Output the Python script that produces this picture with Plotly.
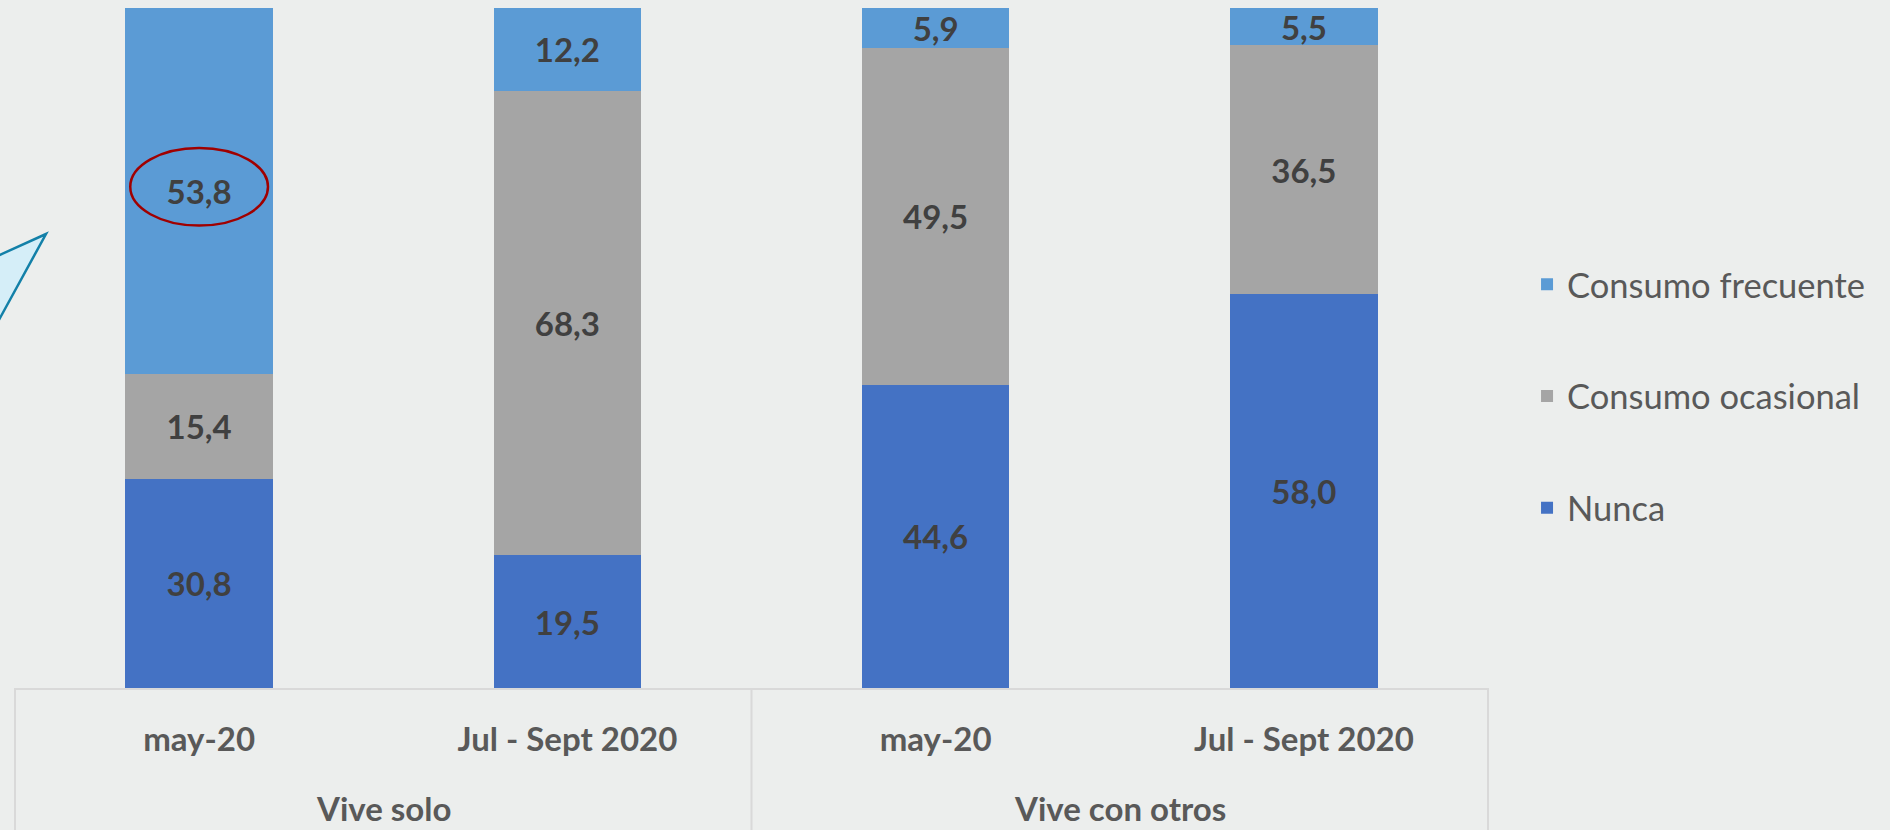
import plotly.graph_objects as go

# ---- data ----
positions = [0, 1, 2, 3]
periods = ["may-20", "Jul - Sept 2020", "may-20", "Jul - Sept 2020"]
groups = ["Vive solo", "Vive con otros"]
group_centers = [0.5, 2.5]

nunca = [30.8, 19.5, 44.6, 58.0]
ocasional = [15.4, 68.3, 49.5, 36.5]
frecuente = [53.8, 12.2, 5.9, 5.5]

series = [
    ("Nunca", nunca, "#4472C4", 3),
    ("Consumo ocasional", ocasional, "#A5A5A5", 2),
    ("Consumo frecuente", frecuente, "#5B9BD5", 1),
]

BG = "#ECEEED"
FONT = "Lato"

fig = go.Figure()
for name, vals, color, rank in series:
    fig.add_trace(go.Bar(
        x=positions, y=vals, name=name, legendgroup=name, legendrank=rank,
        marker=dict(color=color, line=dict(width=0)),
        width=0.4,
        texttemplate="%{y:.1f}", textposition="inside",
        insidetextanchor="middle", textangle=0,
        textfont=dict(family=FONT, size=33, color="#404040", weight="bold"),
        hoverinfo="skip",
    ))

shapes = []
# category box dividers
for px in [0, 0.5, 1]:
    shapes.append(dict(type="line", xref="paper", yref="paper",
                       x0=px, x1=px, y0=0, y1=-0.3,
                       line=dict(color="#D9D9D9", width=2)))
# callout triangle on the left
shapes.append(dict(type="path", xref="paper", yref="paper",
                   path="M 0.02105,0.66765 L -0.02376,0.6238 L -0.02376,0.4904 Z",
                   fillcolor="#D5EEF8", line=dict(color="#1380A8", width=2.5)))
# red ellipse highlight
shapes.append(dict(type="circle", xref="x", yref="y",
                   x0=-0.187, x1=0.187, y0=68.0, y1=79.4,
                   line=dict(color="#A00000", width=2.5)))

annotations = []
for g, c in zip(groups, group_centers):
    annotations.append(dict(x=c, y=-0.1765, xref="x", yref="paper",
                            text=g, showarrow=False, yanchor="middle",
                            font=dict(family=FONT, size=33, color="#595959", weight="bold")))

fig.update_layout(
    width=1890, height=830,
    margin=dict(l=15, r=402, t=8, b=142),
    paper_bgcolor=BG, plot_bgcolor=BG,
    barmode="stack",
    separators=",.",
    uniformtext=dict(minsize=33, mode="show"),
    showlegend=True,
    legend=dict(traceorder="grouped", tracegroupgap=64,
                x=1.0265, xanchor="left", y=0.6364, yanchor="top",
                font=dict(family=FONT, size=34.5, color="#595959"),
                bgcolor="rgba(0,0,0,0)"),
    xaxis=dict(range=[-0.5, 3.5], tickmode="array", tickvals=positions,
               ticktext=periods, showgrid=False, zeroline=False,
               showline=True, linecolor="#D9D9D9", linewidth=2,
               ticks="", ticklabelstandoff=21,
               tickfont=dict(family=FONT, size=33, color="#595959", weight="bold")),
    yaxis=dict(range=[0, 100], visible=False, showgrid=False),
    shapes=shapes, annotations=annotations,
)

fig.write_html(
    "out.html",
    config={"displayModeBar": False},
    post_script="document.body.style.margin='0';document.body.style.background='%s';" % BG,
)
